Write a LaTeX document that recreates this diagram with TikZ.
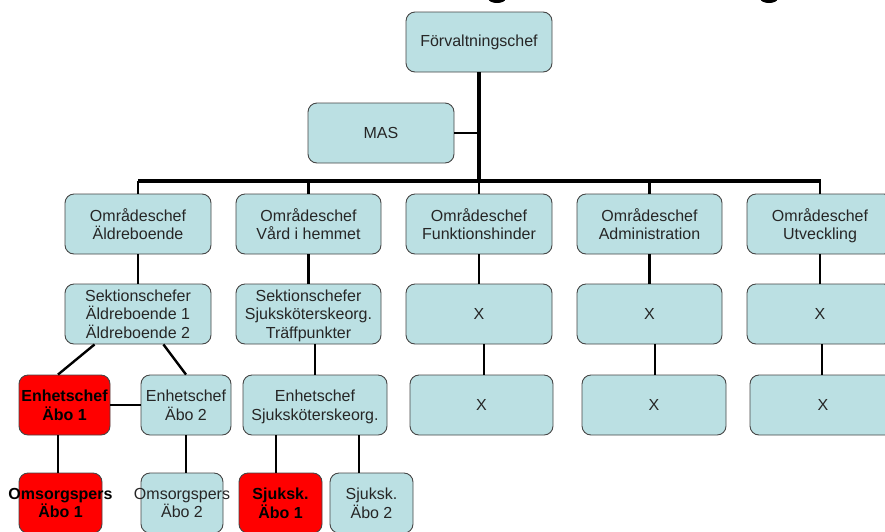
\documentclass[tikz,border=0pt]{standalone}
\usepackage{fontspec}
\setmainfont{Liberation Sans}
\usetikzlibrary{calc}
\definecolor{boxblue}{RGB}{187,224,227}
\definecolor{boxred}{RGB}{255,0,0}
\definecolor{edgegray}{RGB}{70,70,70}
\newcommand\orgfont{\fontsize{16}{18.7}\selectfont}
\newcommand\nodesc[1]{\raisebox{0pt}[\height][0pt]{#1}}
\tikzset{
  orgbox/.style={draw=edgegray, line width=0.9pt, fill=boxblue, rounded corners=9pt,
    inner sep=0pt, align=center, minimum height=60pt, text=black!85, font=\orgfont},
  redbox/.style={orgbox, fill=boxred, font=\orgfont\bfseries, text=black},
  trunk/.style={line width=3.5pt},
  busline/.style={line width=4pt},
  drop/.style={line width=2.6pt},
  link/.style={line width=2.4pt},
  maslink/.style={line width=2pt},
}
\begin{document}
\begin{tikzpicture}[x=1pt, y=-1pt, font=\orgfont]
\useasboundingbox (0,0) rectangle (885,531);
\clip (0,0) rectangle (885,531);
\fill[white] (0,0) rectangle (885,531);
% title fragments
\fill (497,-1) ellipse (8.5pt and 4pt);
\fill (769,-1) ellipse (8.5pt and 4pt);
% coordinates of the bus
\coordinate (busL) at (138,181);
\coordinate (busR) at (821,181);
% nodes
\node[orgbox, minimum width=146pt] (fc) at (479,42) {Förvaltningschef};
\node[orgbox, minimum width=146pt] (mas) at (381,133) {MAS};
\node[orgbox, minimum width=146pt] (a1) at (138,224) {Områdeschef\\Äldreboende};
\node[orgbox, minimum width=145pt] (a2) at (308.5,224) {Områdeschef\\Vård i hemmet};
\node[orgbox, minimum width=146pt] (a3) at (479,224) {Områdeschef\\Funktionshinder};
\node[orgbox, minimum width=145pt] (a4) at (649.5,224) {Områdeschef\\Administration};
\node[orgbox, minimum width=146pt] (a5) at (820,224) {Områdeschef\\\nodesc{Utveckling}};
\node[orgbox, minimum width=146pt] (s1) at (138,314) {Sektionschefer\\Äldreboende 1\\Äldreboende 2};
\node[orgbox, minimum width=145pt] (s2) at (308.5,314) {Sektionschefer\\Sjuksköterskeorg.\\\nodesc{Träffpunkter}};
\node[orgbox, minimum width=146pt] (s3) at (479,314) {X};
\node[orgbox, minimum width=145pt] (s4) at (649.5,314) {X};
\node[orgbox, minimum width=146pt] (s5) at (820,314) {X};
\node[redbox, minimum width=91pt] (e1) at (64.5,405) {Enhetschef\\Äbo 1};
\node[orgbox, minimum width=90pt] (e2) at (186,405) {Enhetschef\\Äbo 2};
\node[orgbox, minimum width=144pt] (es) at (315,405) {Enhetschef\\\nodesc{Sjuksköterskeorg.}};
\node[orgbox, minimum width=143pt] (x1) at (481.5,405) {X};
\node[orgbox, minimum width=144pt] (x2) at (654,405) {X};
\node[orgbox, minimum width=146pt] (x3) at (823,405) {X};
\node[redbox, minimum width=83pt] (o1) at (60.5,503) {};
\node[font=\orgfont\bfseries, align=center, inner sep=0pt] (o1t) at (o1) {Omsorgspers\\Äbo 1};
\node[orgbox, minimum width=82pt] (o2) at (182,503) {};
\node[font=\orgfont, align=center, inner sep=0pt, text=black!85] (o2t) at (o2) {Omsorgspers\\Äbo 2};
\node[redbox, minimum width=83pt] (k1) at (280.5,503) {Sjuksk.\\Äbo 1};
\node[orgbox, minimum width=83pt] (k2) at (371.5,503) {Sjuksk.\\Äbo 2};
% connectors
\draw[trunk] (fc.south) -- (fc.south |- busL);
\draw[maslink] (mas.east) -- (mas.east -| fc.south);
\draw[busline] (busL) -- (busR);
\foreach \n in {a1,a2,a3,a4,a5}{
  \draw[drop] (\n.north |- busL) -- (\n.north);
}
\foreach \u/\l in {a1/s1,a2/s2,a3/s3,a4/s4,a5/s5}{
  \draw[drop] (\u.south) -- (\l.north);
}
\draw[link] ($(s1.south west)+(30,0)$) -- ($(e1.north)+(-6.5,0)$);
\draw[link] ($(s1.south east)+(-48,0)$) -- (e2.north);
\draw[link] (es.north |- s2.south) -- (es.north);
\draw[link] ($(s3.south)+(5,0)$) -- ($(x1.north)+(2.5,0)$);
\draw[link] ($(s4.south)+(5.5,0)$) -- ($(x2.north)+(1,0)$);
\draw[link] ($(s5.south)+(2,0)$) -- ($(x3.north)+(-1,0)$);
\draw[link] (e1.east) -- (e2.west);
\draw[link] ($(e1.south)+(-6.5,0)$) -- ($(o1.north)+(-2.5,0)$);
\draw[link] (e2.south) -- ($(o2.north)+(4,0)$);
\draw[link] ($(es.south)+(-39,0)$) -- ($(k1.north)+(-4.5,0)$);
\draw[link] ($(es.south)+(44,0)$) -- ($(k2.north)+(-12.5,0)$);
\end{tikzpicture}
\end{document}
